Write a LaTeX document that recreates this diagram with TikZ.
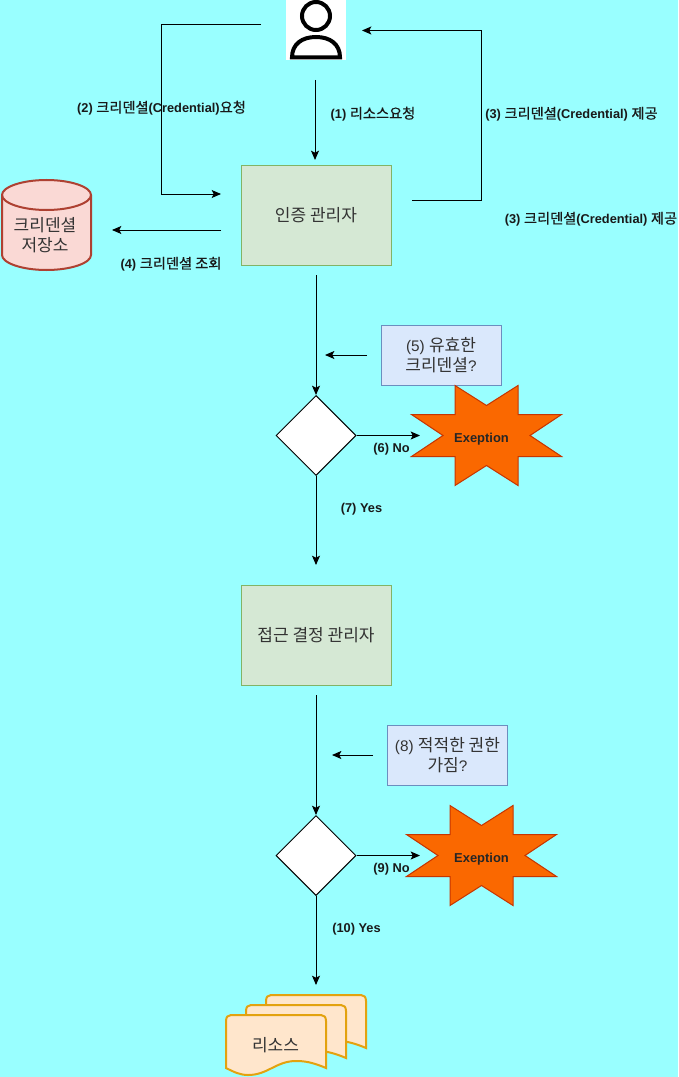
\documentclass[tikz,border=0pt]{standalone}
\usepackage{fontspec}
\setmainfont{Liberation Sans}
\newfontfamily\krfont[Scale=1.11,BoldFont={Noto Sans CJK KR},BoldFeatures={FakeBold=0.6}]{Noto Sans CJK KR}
\usetikzlibrary{shapes.geometric,arrows.meta}
\newcommand{\kr}[1]{{\krfont #1}}
\definecolor{bgcyan}{HTML}{99FFFF}
\definecolor{mgrfill}{HTML}{D5E8D4}
\definecolor{mgrline}{HTML}{82B366}
\definecolor{qfill}{HTML}{DAE8FC}
\definecolor{qline}{HTML}{6C8EBF}
\definecolor{burstfill}{HTML}{FA6800}
\definecolor{burstline}{HTML}{C73500}
\definecolor{dbfill}{HTML}{FAD9D5}
\definecolor{dbline}{HTML}{AE4132}
\definecolor{docfill}{HTML}{FFE6CC}
\definecolor{docline}{HTML}{E3A20F}
\definecolor{txtgray}{HTML}{333333}
\tikzset{
  flow/.style={draw=black,line width=.75pt,-{Stealth[length=7pt,width=6pt,inset=1.5pt]}},
  manager/.style={draw=mgrline,fill=mgrfill,line width=.75pt,minimum width=112.5pt,minimum height=75pt,inner sep=0pt,text=txtgray,font=\fontsize{11.5}{14}\selectfont,align=center},
  question/.style={draw=qline,fill=qfill,line width=.75pt,minimum width=90pt,minimum height=45pt,inner sep=0pt,text=txtgray,font=\fontsize{11.5}{15}\selectfont,align=center},
  decision/.style={diamond,aspect=1,draw=black,fill=white,line width=.75pt,minimum size=60pt,inner sep=0pt},
  steplabel/.style={inner sep=0pt,font=\fontsize{9.6}{11}\selectfont\bfseries,text=black!90},
  burst/.style={draw=burstline,fill=burstfill,line width=.75pt},
  burstlabel/.style={inner sep=0pt,font=\fontsize{9.7}{11}\selectfont\bfseries,text=black!85},
  plain/.style={inner sep=0pt,text=txtgray,font=\fontsize{11.5}{15}\selectfont,align=center}
}
\begin{document}
\begin{tikzpicture}[x=.75pt,y=-.75pt]
  \fill[bgcyan] (0,0) rectangle (678,1077);
  \useasboundingbox (0,0) rectangle (678,1077);

  % user icon
  \node (user) [fill=white,minimum width=45pt,minimum height=45pt,inner sep=0pt] at (316,30) {};
  \draw[line width=3pt] (316,16) circle [radius=14];
  \draw[line width=3pt] (292,57.5) .. controls (292,44) and (302,37) .. (316,37)
    .. controls (330,37) and (340,44) .. (340,57.5) -- cycle;

  % credential store
  \draw[fill=dbfill,draw=dbline,line width=1.5pt] (2,195) -- (2,255)
    .. controls (2,263) and (22,270) .. (46.5,270) .. controls (71,270) and (91,263) .. (91,255)
    -- (91,195) .. controls (91,187) and (71,180) .. (46.5,180) .. controls (22,180) and (2,187) .. (2,195) -- cycle;
  \draw[draw=dbline,line width=1.5pt] (2,195) .. controls (2,203) and (22,210) .. (46.5,210)
    .. controls (71,210) and (91,203) .. (91,195);
  \node (store) [plain] at (45,235.5) {\kr{크리덴셜}\\\kr{저장소}};

  \node (auth) [manager] at (316,215.5) {\kr{인증 관리자}};
  \node (q1) [question] at (441,355) {(5) \kr{유효한}\\\kr{크리덴셜}?};
  \node (dec1) [decision] at (316,435.5) {};
  \node (access) [manager] at (316,635.5) {\kr{접근 결정 관리자}};
  \node (q2) [question] at (447.5,755) {(8) \kr{적적한 권한}\\\kr{가짐}?};
  \node (dec2) [decision] at (316,855.5) {};

  % exception bursts
  \foreach \bx/\by in {486.5/435.5,481.5/855.5} {
    \draw[burst,shift={(\bx,\by)}] (-31.5,-50) -- (0,-30) -- (31.5,-50) -- (31.5,-21) -- (75,-21)
      -- (43.5,0) -- (75,21) -- (31.5,21) -- (31.5,50) -- (0,30) -- (-31.5,50) -- (-31.5,21)
      -- (-75,21) -- (-43.5,0) -- (-75,-21) -- (-31.5,-21) -- cycle;
  }
  \node (exc1) [burstlabel] at (481.5,439.5) {Exeption};
  \node (exc2) [burstlabel] at (481.5,859.5) {Exeption};

  % resource pages, back to front
  \foreach \dx in {40,20,0} {
    \draw[fill=docfill,draw=docline,line width=1.5pt,shift={(\dx,{-\dx/2})}] (226,1021)
      .. controls (226,1017) and (228,1015) .. (231,1015) -- (321,1015)
      .. controls (324,1015) and (326,1017) .. (326,1021) -- (326,1068)
      .. controls (312,1062) and (304,1061) .. (296,1061)
      .. controls (276,1061) and (268,1075) .. (248,1075)
      .. controls (240,1075) and (234,1072) .. (226,1068) -- cycle;
  }
  \node (res) [plain] at (275.5,1045) {\kr{리소스}};

  \coordinate (userleft) at (261,24.5);
  \coordinate (askcorner1) at (161,24.5);
  \coordinate (askcorner2) at (161,194);
  \coordinate (askend) at (221,194);
  \coordinate (userbelow) at (315,80);
  \coordinate (authabove) at (315,160);
  \coordinate (giveout) at (412,200.5);
  \coordinate (givecorner1) at (481,200.5);
  \coordinate (givecorner2) at (481,30.5);
  \coordinate (giveend) at (362,30.5);
  \coordinate (lookout) at (221,230);
  \coordinate (lookend) at (112,230);
  \coordinate (authbelow) at (316,275);
  \coordinate (q1out) at (367,355);
  \coordinate (q1end) at (325,355);
  \coordinate (no1end) at (420,435.5);
  \coordinate (accessabove) at (316,565);
  \coordinate (accessbelow) at (316,695);
  \coordinate (q2out) at (373,755);
  \coordinate (q2end) at (332,755);
  \coordinate (no2end) at (420,855.5);
  \coordinate (resabove) at (316,985);

  \draw[flow] (userleft) -- (askcorner1) -- (askcorner2) -- (askend);
  \draw[flow] (userbelow) -- (authabove);
  \draw[flow] (giveout) -- (givecorner1) -- (givecorner2) -- (giveend);
  \draw[flow] (lookout) -- (lookend);
  \draw[flow] (authbelow) -- (dec1.north);
  \draw[flow] (q1out) -- (q1end);
  \draw[flow] (dec1.east) -- (no1end);
  \draw[flow] (dec1.south) -- (accessabove);
  \draw[flow] (accessbelow) -- (dec2.north);
  \draw[flow] (q2out) -- (q2end);
  \draw[flow] (dec2.east) -- (no2end);
  \draw[flow] (dec2.south) -- (resabove);

  \node (lab1) [steplabel] at (373,114) {(1) \kr{리소스요청}};
  \node (lab2) [steplabel] at (161.5,108) {(2) \kr{크리덴셜}(Credential)\kr{요청}};
  \node (lab3a) [steplabel] at (571.5,114) {(3) \kr{크리덴셜}(Credential) \kr{제공}};
  \node (lab3b) [steplabel] at (591,219) {(3) \kr{크리덴셜}(Credential) \kr{제공}};
  \node (lab4) [steplabel] at (171,264) {(4) \kr{크리덴셜 조회}};
  \node (lab6) [steplabel] at (391.5,449) {(6) No};
  \node (lab7) [steplabel] at (361.5,509) {(7) Yes};
  \node (lab9) [steplabel] at (391.5,869) {(9) No};
  \node (lab10) [steplabel] at (356.5,929) {(10) Yes};
\end{tikzpicture}
\end{document}
